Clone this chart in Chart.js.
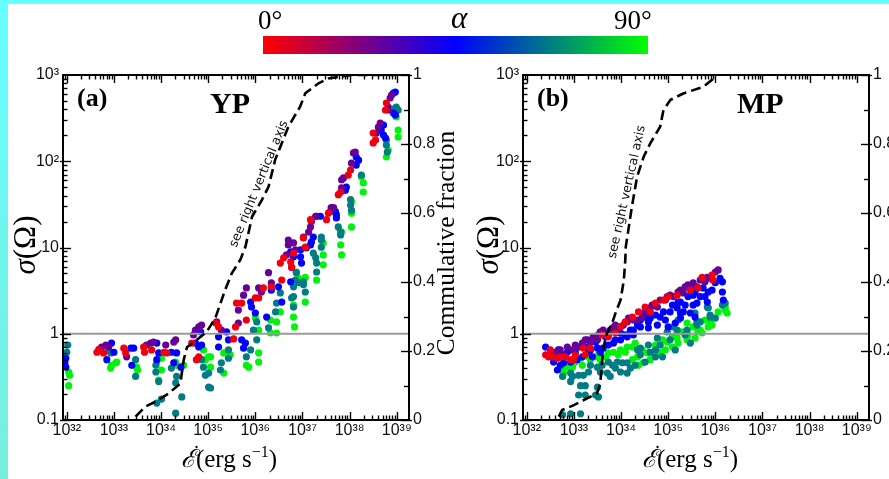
<!DOCTYPE html>
<html><head><meta charset="utf-8">
<script src="https://cdn.jsdelivr.net/npm/chart.js@4.4.0/dist/chart.umd.min.js"></script>
<style>
html,body{margin:0;padding:0;width:889px;height:479px;overflow:hidden;background:#fff;}
canvas{position:absolute;top:0;}
#frameL{position:absolute;left:0;top:0;width:8px;height:479px;background:linear-gradient(#66ffff,#77eedd);}
#frameT{position:absolute;left:0;top:0;width:889px;height:4px;background:#66ffff;}
#cbar{position:absolute;left:263px;top:36px;width:385px;height:18px;background:linear-gradient(to right,#ff0000,#0000ff,#00ff00);}
.cbl{position:absolute;font-family:"Liberation Serif",serif;font-size:27px;line-height:27px;color:#000;white-space:nowrap;}
</style></head>
<body>
<canvas id="ca" width="460" height="479" style="left:0px"></canvas>
<canvas id="cb" width="460" height="479" style="left:460px"></canvas>
<div id="frameL"></div><div id="frameT"></div>
<div id="cbar"></div>
<div class="cbl" style="left:258px;top:7px">0°</div>
<div class="cbl" style="left:451px;top:2px;font-style:italic;font-size:31px;line-height:31px">α</div>
<div class="cbl" style="left:614px;top:7px">90°</div>
<script>
// ---------- tick labels ----------
const xTickExps   = [32,33,34,35,36,37,38,39];
const xTickLabels = ['10³²','10³³','10³⁴','10³⁵','10³⁶','10³⁷','10³⁸','10³⁹'];
const yTickValues = [0.1,1,10,100,1000];
const yTickLabels = ['0.1','1','10','10²','10³'];
const fracTickValues = [0,0.2,0.4,0.6,0.8,1];
const fracTickLabels = ['0','0.2','0.4','0.6','0.8','1'];
const groupAlphaDeg = [3,27,45,67,88];   // inclination angle of each colour group
const refSigma = 1;

// ---------- (a) YP : log10(Edot) and sigma per alpha group ----------
const ypRedLogEdot = [32.64,32.68,32.78,33.21,33.25,33.63,33.65,33.80,34.06,34.12,34.65,34.80,34.75,35.16,35.22,35.54,35.58,35.60,35.71,35.81,36.00,36.07,36.17,36.34,36.53,36.56,36.60,36.75,36.77,36.81,37.02,37.06,37.17,37.51,37.55,37.76,37.81,37.97,38.02,38.50,38.55,38.50,38.76,38.78];
const ypRedSigma   = [0.61,0.66,0.60,0.68,0.60,0.70,0.61,0.65,0.61,0.60,0.78,0.54,0.50,1.33,1.20,0.87,1.20,2.27,2.27,1.44,2.6,2.6,3.4,3.5,6.6,4.2,7.6,6.8,5.9,8.6,12.9,10.1,21,21,25,41,44,69,79,163,176,212,393,473];
const ypPurpleLogEdot = [32.74,32.83,32.89,33.27,33.69,33.78,33.84,34.10,34.27,34.31,34.69,34.73,34.80,34.86,35.18,35.28,35.64,35.64,35.75,35.81,36.07,36.13,36.28,36.34,36.66,36.70,36.81,36.70,37.02,36.85,37.13,37.17,37.19,37.28,37.59,37.61,37.66,37.83,37.83,37.87,38.04,38.08,38.12,38.57,38.61,38.65,38.82,38.86,38.89,38.82];
const ypPurpleSigma   = [0.70,0.74,0.70,0.54,0.74,0.78,0.80,0.74,0.80,0.85,0.97,1.10,1.20,1.26,1.37,1.10,1.33,1.88,2.8,3.4,3.4,3.05,5.1,3.9,8.2,10.7,11.3,12.2,13.2,9.4,15.1,17.3,20,23,26,29,29,49,61,64,95,125,128,212,249,277,425,541,586,393];
const ypBlueLogEdot = [31.96,31.98,31.98,32.95,33.00,32.85,33.36,33.42,33.38,33.91,33.95,33.91,34.22,34.33,34.27,34.42,34.80,34.73,34.86,34.84,35.39,35.43,35.22,35.22,35.71,35.79,35.75,35.90,35.92,36.00,36.24,36.34,36.49,36.56,36.75,36.81,36.77,36.96,36.96,36.98,36.75,37.08,37.19,37.17,37.23,37.30,37.38,37.70,37.72,37.72,37.93,37.91,38.14,38.19,38.14,38.72,38.67,38.72,38.76,38.93,38.97,38.93,38.97];
const ypBlueSigma   = [0.46,0.52,0.41,0.78,0.61,0.50,0.68,0.68,0.43,0.78,0.60,0.50,0.61,0.60,0.46,0.41,0.70,0.78,0.74,1.05,1.05,0.85,0.92,0.70,0.85,0.78,0.68,2.33,2.04,1.74,1.56,3.2,3.5,2.33,8.9,7.8,5.9,9.4,7.8,6.6,4.0,9.9,11.6,10.7,13.2,23,23,26,24,22,50,46,112,103,90,263,230,201,186,618,635,362,344];
const ypTealLogEdot = [32.02,32.00,32.89,32.93,33.46,33.46,33.89,33.89,33.95,33.91,34.01,34.22,34.33,34.31,34.44,34.31,34.86,34.90,35.01,35.01,35.05,34.94,35.43,35.43,35.28,35.26,35.90,35.81,36.03,35.96,36.03,36.28,36.43,36.45,36.53,36.87,36.85,36.81,36.81,36.77,36.81,37.02,37.06,37.02,36.92,37.23,37.28,37.30,37.30,37.40,37.40,37.40,37.76,37.81,37.81,38.02,38.02,38.04,38.25,38.78,38.78,38.80,38.97,38.99,39.03];
const ypTealSigma   = [0.74,0.61,0.65,0.60,0.50,0.32,0.43,0.36,0.28,0.157,0.175,0.40,0.32,0.27,0.185,0.12,0.50,0.41,0.35,0.24,0.235,0.33,0.65,0.52,0.46,0.38,0.65,0.54,1.37,1.10,0.85,1.17,1.79,2.27,2.97,5.1,4.2,3.5,2.7,2.6,2.04,3.7,3.05,4.0,3.9,8.6,7.6,6.6,5.2,13.2,12.2,10.1,17.3,15.1,14.0,36,31,27,69,176,154,128,414,425,393];
const ypGreenLogEdot = [32.04,32.06,32.04,33.04,32.95,32.93,33.06,33.48,33.50,33.91,34.01,34.01,33.95,34.31,34.33,34.48,34.90,34.94,35.01,35.05,35.05,35.33,35.47,35.33,35.81,35.86,36.07,36.07,36.00,36.07,36.32,36.45,36.32,36.45,36.53,36.87,36.92,36.81,36.81,36.83,37.06,37.06,37.30,37.44,37.44,37.44,37.83,37.81,37.83,38.04,38.04,38.04,38.25,38.29,38.29,38.82,38.78,39.03,39.03,38.99];
const ypGreenSigma   = [0.36,0.33,0.25,0.46,0.43,0.40,0.47,0.41,0.38,0.47,0.52,0.38,0.29,0.47,0.43,0.43,0.65,0.50,0.54,0.41,0.54,0.60,0.57,0.35,0.43,0.41,0.60,0.47,1.52,1.10,1.44,1.37,1.02,1.02,1.79,5.2,4.4,2.15,1.56,1.20,4.5,2.33,4.2,6.3,8.2,11.3,15.1,10.7,8.2,17.3,25,34,66,56,44,135,112,230,191,326];
const ypCumLogEdot = [33.46,33.67,33.88,34.16,34.41,34.48,34.55,34.80,34.97,35.15,35.36,35.50,35.68,35.79,35.93,36.14,36.28,36.42,36.70,36.95,37.06,37.34,37.55,38.04,38.96];
const ypCumFrac    = [0.01,0.039,0.053,0.077,0.106,0.174,0.211,0.237,0.256,0.295,0.377,0.425,0.464,0.502,0.589,0.638,0.676,0.754,0.850,0.908,0.947,0.976,0.990,1.0,1.0];

// ---------- (b) MP ----------
const mpRedLogEdot = [32.46,32.50,32.65,32.82,32.93,32.99,33.20,33.24,33.60,33.99,34.24,34.37,34.51,34.73,34.90,35.19,35.63,35.72,35.93,35.95,
  32.40,32.55,32.71,33.03,33.35,33.73,33.88,34.09,34.62,35.00,35.47];
const mpRedSigma   = [0.54,0.65,0.52,0.54,0.50,0.50,0.68,0.57,0.97,1.20,1.56,1.79,2.04,2.27,2.46,2.8,3.4,4.5,4.8,4.2,
  0.57,0.54,0.54,0.57,0.68,0.92,1.02,1.37,1.79,2.7,3.2];
const mpPurpleLogEdot = [32.55,32.61,32.76,32.97,33.10,33.18,33.29,33.41,33.50,33.56,33.62,33.73,33.82,33.88,34.05,34.13,34.26,34.35,34.45,34.62,34.83,34.98,35.04,35.21,35.32,35.36,35.42,35.53,35.61,35.68,35.83,36.00,36.06,
  34.51,34.66,34.77,34.94,35.11,35.26,35.47,35.78,35.89,32.71,32.86,33.03,33.24,33.35,33.52,33.67,33.77,33.94,34.16];
const mpPurpleSigma   = [0.60,0.61,0.57,0.65,0.70,0.78,0.85,0.92,0.85,1.05,1.10,0.97,1.17,1.26,1.26,1.37,1.44,1.44,1.56,1.99,2.46,2.7,2.8,3.05,2.97,3.5,3.7,3.9,3.5,4.2,4.5,5.2,5.5,
  1.79,2.15,2.04,2.46,2.7,3.2,3.4,4.0,4.4,0.65,0.70,0.74,0.85,0.80,0.97,1.02,1.10,1.20,1.52];
const mpBlueLogEdot = [32.67,32.86,33.03,33.24,33.35,33.46,33.67,33.99,34.20,34.35,32.57,32.78,32.93,33.07,33.39,33.56,33.62,33.84,33.99,34.13,34.26,34.51,34.62,34.73,34.90,35.09,35.26,35.42,35.57,35.74,35.85,36.15,36.15,36.17,35.78,35.83,35.61,34.26,34.41,34.58,34.77,34.94,35.00,35.15,35.26,35.32,35.47,35.57,36.10,35.21,35.19,35.26,35.53,35.53,32.65,
  32.40,32.71,33.18,33.31,33.50,33.73,33.88,34.09,34.41,34.58,34.83,35.04,35.36,35.68,35.93,36.00];
const mpBlueSigma   = [0.65,0.61,0.61,0.70,0.65,0.80,0.92,1.02,1.10,1.26,0.47,0.46,0.47,0.50,0.54,0.61,0.68,0.78,0.85,0.92,0.97,1.56,1.52,1.65,1.79,2.15,2.33,2.7,3.05,3.4,3.05,4.0,3.05,2.46,2.7,2.33,2.27,1.10,1.20,1.17,1.26,1.44,1.20,1.33,1.52,1.79,1.74,1.56,4.4,2.33,1.99,1.74,2.8,2.15,0.38,
  0.70,0.43,0.54,0.61,0.68,0.74,0.85,0.97,1.44,1.37,1.56,1.79,2.15,2.7,3.2,3.9];
const mpTealLogEdot = [32.76,32.93,32.97,32.93,33.10,33.20,33.31,33.14,33.24,33.50,33.60,33.73,33.71,33.82,33.92,34.03,34.13,34.20,33.99,33.77,34.13,34.30,33.24,33.10,33.46,33.50,33.14,32.93,32.76,33.52,34.35,34.41,34.58,34.73,34.77,34.98,35.19,35.40,35.61,35.63,35.85,35.89,36.15,36.21,35.11,35.21,35.57,35.61,35.83,35.89,34.88,
  33.35,33.56,33.88,34.41,34.62,34.83,35.04,35.36,35.68,36.00,34.51,34.73,35.15,35.47];
const mpTealSigma   = [0.32,0.35,0.32,0.28,0.33,0.33,0.36,0.25,0.25,0.41,0.43,0.47,0.35,0.43,0.47,0.46,0.46,0.40,0.36,0.32,0.35,0.43,0.195,0.195,0.195,0.24,0.118,0.118,0.115,0.185,0.65,0.68,0.74,0.65,0.89,1.05,1.10,1.10,1.26,1.37,1.99,1.56,2.15,2.27,1.20,1.44,1.74,1.37,2.04,1.65,0.54,
  0.43,0.36,0.40,0.57,0.61,0.74,0.85,0.97,1.37,1.52,0.47,0.54,0.65,0.78];
const mpGreenLogEdot = [32.76,32.78,32.71,32.86,32.97,33.14,33.18,33.31,33.46,33.52,33.56,33.73,33.84,33.99,34.13,34.24,34.30,34.24,34.35,34.37,34.47,34.56,34.62,34.83,34.94,35.09,34.98,35.19,35.21,35.40,35.42,35.68,35.72,35.89,35.93,36.21,36.25,36.21,35.40,35.63,35.85,35.89,35.19,
  33.03,33.35,33.67,33.94,34.09,34.45,34.73,34.88,35.09,35.30,35.53,35.78,36.06,35.57];
const mpGreenSigma   = [0.41,0.35,0.40,0.41,0.41,0.52,0.43,0.54,0.54,0.57,0.50,0.60,0.61,0.65,0.70,0.70,0.78,0.50,0.54,0.43,0.46,0.60,0.50,0.61,0.65,0.70,0.80,0.89,0.78,0.85,0.97,1.10,1.02,1.37,1.26,1.88,1.74,2.04,1.33,1.05,1.20,1.44,1.02,
  0.47,0.50,0.54,0.57,0.61,0.65,0.74,0.85,0.92,1.05,1.20,1.44,1.79,0.89];
const mpCumLogEdot = [32.68,32.75,33.00,33.28,33.49,33.56,33.60,33.63,33.70,33.81,33.88,33.99,34.06,34.09,34.10,34.23,34.34,34.48,34.62,34.83,34.90,35.05,35.33,35.75,35.93,36.00];
const mpCumFrac    = [0.01,0.029,0.043,0.063,0.077,0.106,0.174,0.212,0.251,0.280,0.309,0.348,0.406,0.464,0.502,0.618,0.705,0.763,0.802,0.850,0.899,0.928,0.947,0.966,0.986,1.0];

// ---------- helpers ----------
function alphaColor(a){
  const t=Math.min(Math.max(a/90,0),1); let r,g,b;
  if(t<0.5){const u=t/0.5; r=255*(1-u); g=0; b=255*u;}
  else {const u=(t-0.5)/0.5; r=0; g=255*u; b=255*(1-u);}
  return 'rgb('+Math.round(r)+','+Math.round(g)+','+Math.round(b)+')';
}
function toPoints(logE, vals){ return logE.map((e,i)=>({x:Math.pow(10,e), y:vals[i]})); }
function drawParts(ctx, parts, x, y){
  let cx=x;
  parts.forEach(p=>{ ctx.font=p[1]; ctx.fillText(p[0], cx, y+(p[2]||0)); cx+=ctx.measureText(p[0]).width; });
}
function partsWidth(ctx, parts){ let w=0; parts.forEach(p=>{ctx.font=p[1]; w+=ctx.measureText(p[0]).width;}); return w; }

const deco = {
  id:'deco',
  beforeDatasetDraw(chart, args){
    if(args.index!==0) return;
    const {ctx, chartArea:a, scales:{y}} = chart;
    const py = y.getPixelForValue(refSigma);
    ctx.save(); ctx.strokeStyle='#9a9a9a'; ctx.lineWidth=2;
    ctx.beginPath(); ctx.moveTo(a.left,py); ctx.lineTo(a.right,py); ctx.stroke(); ctx.restore();
  },
  afterDraw(chart, args, o){
    const {ctx, chartArea:a, scales:{x,y,y2}} = chart;
    ctx.save();
    ctx.strokeStyle='#000'; ctx.lineWidth=1.4;
    const ln=(x1,y1,x2,y2_)=>{ctx.beginPath();ctx.moveTo(x1,y1);ctx.lineTo(x2,y2_);ctx.stroke();};
    for(let e=31;e<=39;e++) for(let k=1;k<=9;k++){
      const v=k*Math.pow(10,e); if(v<x.min||v>x.max) continue;
      const px=Math.round(x.getPixelForValue(v))+0.5, L=(k===1)?8:4.5;
      ln(px,a.bottom,px,a.bottom-L); ln(px,a.top,px,a.top+L);
    }
    for(let e=-1;e<=2;e++) for(let k=1;k<=9;k++){
      const v=k*Math.pow(10,e); if(v<y.min||v>y.max) continue;
      const py=Math.round(y.getPixelForValue(v))+0.5;
      if(k===1) ln(a.left-3,py,a.left+8,py); else ln(a.left,py,a.left+4.5,py);
    }
    for(let i=0;i<=10;i++){
      const py=Math.round(y2.getPixelForValue(i/10))+0.5;
      if(i%2===0) ln(a.right-8,py,a.right+3,py); else ln(a.right-5,py,a.right,py);
    }
    ctx.lineWidth=2; ctx.strokeRect(a.left,a.top,a.right-a.left,a.bottom-a.top);
    ctx.fillStyle='#000'; ctx.textBaseline='alphabetic'; ctx.textAlign='left';
    ctx.font='bold 26px "Liberation Serif"'; ctx.fillText(o.label, 77, 106);
    ctx.font='bold 30px "Liberation Serif"'; ctx.fillText(o.name, o.nameX, 113);
    ctx.save(); ctx.translate(o.seeX,o.seeY); ctx.rotate(o.seeAngle*Math.PI/180);
    ctx.font='12.6px "DejaVu Sans"'; ctx.textAlign='center'; ctx.textBaseline='middle'; ctx.fillStyle='#111';
    ctx.fillText('see right vertical axis',0,0); ctx.restore();
    ctx.save(); ctx.translate(o.sigX,245); ctx.rotate(-Math.PI/2); ctx.textBaseline='middle'; ctx.textAlign='left';
    const sp=[['σ','italic 31px "Liberation Serif"'],['(Ω)','31px "Liberation Serif"']];
    drawParts(ctx, sp, -partsWidth(ctx,sp)/2, 0); ctx.restore();
    const bp=[['ℰ','italic 25px "DejaVu Serif"'],['(erg s','25px "Liberation Serif"'],['−1','16px "Liberation Serif"',-10],[')','25px "Liberation Serif"']];
    ctx.textBaseline='alphabetic';
    const bw=partsWidth(ctx,bp), bx=(a.left+a.right)/2-bw/2+o.titleShift;
    drawParts(ctx,bp,bx,467);
    ctx.font='21px "Liberation Serif"'; ctx.fillText('˙', bx+12, 460);
    if(o.rightTitle){
      ctx.save(); ctx.translate(447,243); ctx.rotate(-Math.PI/2); ctx.textAlign='center'; ctx.textBaseline='middle';
      ctx.font='25.5px "Liberation Serif"'; ctx.fillText('Commulative fraction',0,0); ctx.restore();
    }
    ctx.restore();
  }
};

function makeChart(id, groups, cumE, cumF, decoOpts){
  const datasets=[{
    type:'scatter', label:'cumulative', data:toPoints(cumE,cumF), yAxisID:'y2', showLine:true,
    borderColor:'#000', borderWidth:2.6, borderDash:[10,5], pointRadius:0, fill:false, tension:0, order:0
  }];
  groups.forEach((g,gi)=>{
    datasets.push({label:'α='+g.alpha+'°', data:toPoints(g.e,g.s), yAxisID:'y',
      backgroundColor:alphaColor(g.alpha), borderWidth:0, pointRadius:3.6, order:1+gi});
  });
  const tickFont={family:'"Liberation Sans"', size:16};
  return new Chart(document.getElementById(id),{
    type:'scatter', data:{datasets}, plugins:[deco],
    options:{
      responsive:false, animation:false, devicePixelRatio:1, events:[],
      layout:{padding:{top:75,left:0,right:0,bottom:0}},
      plugins:{legend:{display:false}, tooltip:{enabled:false}, deco:decoOpts},
      scales:{
        x:{type:'logarithmic', position:'bottom', min:Math.pow(10,31.92), max:Math.pow(10,39.26),
           grid:{display:false,drawTicks:false}, border:{display:false},
           afterBuildTicks(s){ s.ticks=xTickExps.map(e=>({value:Math.pow(10,e)})); },
           afterFit(s){ s.height=59; },
           ticks:{autoSkip:false, maxRotation:0, padding:1, color:'#111', font:tickFont, callback:(v,i)=>xTickLabels[i]}},
        y:{type:'logarithmic', position:'left', min:0.1, max:1000,
           grid:{display:false,drawTicks:false}, border:{display:false},
           afterBuildTicks(s){ s.ticks=yTickValues.map(v=>({value:v})); },
           afterFit(s){ s.width=63; },
           ticks:{autoSkip:false, padding:4, color:'#111', font:tickFont, callback:(v,i)=>yTickLabels[i]}},
        y2:{type:'linear', position:'right', min:0, max:1,
           grid:{display:false,drawTicks:false}, border:{display:false},
           afterBuildTicks(s){ s.ticks=fracTickValues.map(v=>({value:v})); },
           afterFit(s){ s.width=51; },
           ticks:{autoSkip:false, padding:4, color:'#111', font:tickFont, callback:(v,i)=>fracTickLabels[i]}}
      }
    }
  });
}

const ypGroups=[
  {alpha:groupAlphaDeg[0], e:ypRedLogEdot, s:ypRedSigma},
  {alpha:groupAlphaDeg[1], e:ypPurpleLogEdot, s:ypPurpleSigma},
  {alpha:groupAlphaDeg[2], e:ypBlueLogEdot, s:ypBlueSigma},
  {alpha:groupAlphaDeg[3], e:ypTealLogEdot, s:ypTealSigma},
  {alpha:groupAlphaDeg[4], e:ypGreenLogEdot, s:ypGreenSigma}];
const mpGroups=[
  {alpha:groupAlphaDeg[0], e:mpRedLogEdot, s:mpRedSigma},
  {alpha:groupAlphaDeg[1], e:mpPurpleLogEdot, s:mpPurpleSigma},
  {alpha:groupAlphaDeg[2], e:mpBlueLogEdot, s:mpBlueSigma},
  {alpha:groupAlphaDeg[3], e:mpTealLogEdot, s:mpTealSigma},
  {alpha:groupAlphaDeg[4], e:mpGreenLogEdot, s:mpGreenSigma}];

makeChart('ca', ypGroups, ypCumLogEdot, ypCumFrac,
  {label:'(a)', name:'YP', nameX:210, seeX:259, seeY:184, seeAngle:-67.7, sigX:27, rightTitle:true, titleShift:-7});
makeChart('cb', mpGroups, mpCumLogEdot, mpCumFrac,
  {label:'(b)', name:'MP', nameX:277, seeX:167, seeY:192, seeAngle:-77.4, sigX:30, rightTitle:false, titleShift:-6});
</script>
</body></html>
